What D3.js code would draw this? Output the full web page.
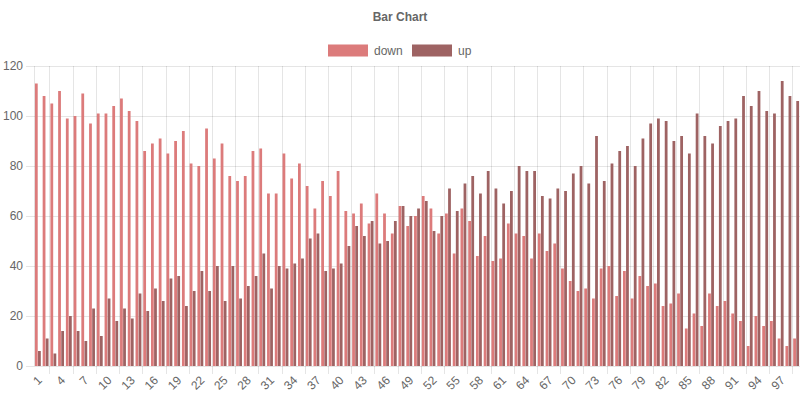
<!DOCTYPE html>
<html>
<head>
<meta charset="utf-8">
<script src="https://cdn.jsdelivr.net/npm/d3@7"></script>
<style>
  html, body { margin: 0; padding: 0; background: #fff; }
  svg { display: block; }
  text { font-family: "Liberation Sans", Arial, Helvetica, sans-serif; }
</style>
</head>
<body>
<svg id="chart" width="800" height="400"></svg>
<script>
const categories = ["1","2","3","4","5","6","7","8","9","10","11","12","13","14","15","16","17","18","19","20",
  "21","22","23","24","25","26","27","28","29","30","31","32","33","34","35","36","37","38","39","40",
  "41","42","43","44","45","46","47","48","49","50","51","52","53","54","55","56","57","58","59","60",
  "61","62","63","64","65","66","67","68","69","70","71","72","73","74","75","76","77","78","79","80",
  "81","82","83","84","85","86","87","88","89","90","91","92","93","94","95","96","97","98","99"];

const downValues = [113,108,105,110,99,100,109,97,101,101,104,107,102,98,86,89,91,85,
  90,94,81,80,95,83,89,76,74,76,86,87,69,69,85,75,
  81,72,63,74,68,78,62,61,65,57,69,61,53,64,56,60,68,
  63,53,61,45,63,58,44,52,42,43,57,53,52,43,53,46,49,
  39,34,30,31,27,39,40,28,38,27,36,32,33,24,25,29,15,
  21,16,29,24,26,21,18,8,20,16,18,11,8,11];

const upValues = [6,11,5,14,20,14,10,23,12,27,18,23,19,29,22,31,26,
  35,36,24,30,38,30,40,26,40,27,32,36,45,31,40,39,41,
  43,51,53,38,39,41,48,56,52,58,49,50,58,64,60,63,66,
  54,60,71,62,73,76,69,78,71,65,70,80,78,78,68,67,71,
  70,77,80,73,92,74,81,86,88,80,91,97,99,98,90,92,85,
  101,92,89,96,98,99,108,104,110,102,101,114,108,106];

const seriesNames = ["down", "up"];
const seriesColors = ["#dc7b7b", "#9e6363"];
const xTickLabels = ["1","4","7","10","13","16","19","22","25","28","31","34","37","40","43","46","49",
  "52","55","58","61","64","67","70","73","76","79","82","85","88","91","94","97"];
const yTicks = [0, 20, 40, 60, 80, 100, 120];
const titleText = "Bar Chart";

(function () {
const series = [downValues, upValues];

const svg = d3.select("#chart");
const pLeft = 34, pRight = 800, pTop = 66, pBottom = 366;
const gridColor = "rgba(0,0,0,0.1)";
const textColor = "#666";

const x0 = d3.scaleBand().domain(categories).range([pLeft, pRight]).padding(0);
const bw = x0.bandwidth();
const x1 = d3.scaleBand().domain(seriesNames)
  .range([0.1 * bw, 0.9 * bw]).paddingInner(0.1).paddingOuter(0.05);
const y = d3.scaleLinear().domain([0, 120]).range([pBottom, pTop]);

// horizontal grid lines
const grid = svg.append("g");
grid.selectAll("line.h").data(yTicks).enter().append("line")
  .attr("x1", pLeft - 8).attr("x2", pRight)
  .attr("y1", d => y(d) + 0.5).attr("y2", d => y(d) + 0.5)
  .attr("stroke", gridColor).attr("stroke-width", 1);

// vertical grid lines (offset between shown ticks)
const vgrid = xTickLabels.map(l => x0(l) - bw).filter(v => v > pLeft + 1);
vgrid.push(x0(xTickLabels[xTickLabels.length - 1]) + 2 * bw);
grid.selectAll("line.v").data(vgrid).enter().append("line")
  .attr("x1", d => Math.round(d) + 0.5).attr("x2", d => Math.round(d) + 0.5)
  .attr("y1", pTop).attr("y2", pBottom + 8)
  .attr("stroke", gridColor).attr("stroke-width", 1);
// left border
grid.append("line")
  .attr("x1", pLeft + 0.5).attr("x2", pLeft + 0.5)
  .attr("y1", pTop).attr("y2", pBottom)
  .attr("stroke", gridColor).attr("stroke-width", 1);

// bars
seriesNames.forEach((name, si) => {
  svg.append("g").selectAll("rect").data(series[si]).enter().append("rect")
    .attr("x", (d, i) => x0(categories[i]) + x1(name))
    .attr("width", x1.bandwidth())
    .attr("y", d => y(d))
    .attr("height", d => y(0) - y(d))
    .attr("fill", seriesColors[si]);
});

// y tick labels
svg.append("g").selectAll("text").data(yTicks).enter().append("text")
  .attr("x", pLeft - 11).attr("y", d => y(d))
  .attr("dy", "0.35em")
  .attr("text-anchor", "end")
  .attr("fill", textColor).attr("font-size", 12)
  .text(d => d);

// x tick labels (rotated)
svg.append("g").selectAll("text").data(xTickLabels).enter().append("text")
  .attr("transform", d => `translate(${x0(d) + bw / 2 + 2},${pBottom + 12}) rotate(-45)`)
  .attr("text-anchor", "end")
  .attr("dy", "0.35em")
  .attr("fill", textColor).attr("font-size", 12)
  .text(d => d);

// title
svg.append("text")
  .attr("x", 400).attr("y", 21)
  .attr("text-anchor", "middle")
  .attr("font-weight", "bold")
  .attr("fill", textColor).attr("font-size", 12)
  .text(titleText);

// legend
const legendX = [328, 412];
const lg = svg.append("g");
seriesNames.forEach((name, si) => {
  lg.append("rect")
    .attr("x", legendX[si]).attr("y", 44.5)
    .attr("width", 40).attr("height", 12)
    .attr("fill", seriesColors[si]);
  lg.append("text")
    .attr("x", legendX[si] + 46).attr("y", 54.5)
    .attr("fill", textColor).attr("font-size", 12)
    .text(name);
});
})();
</script>
</body>
</html>
